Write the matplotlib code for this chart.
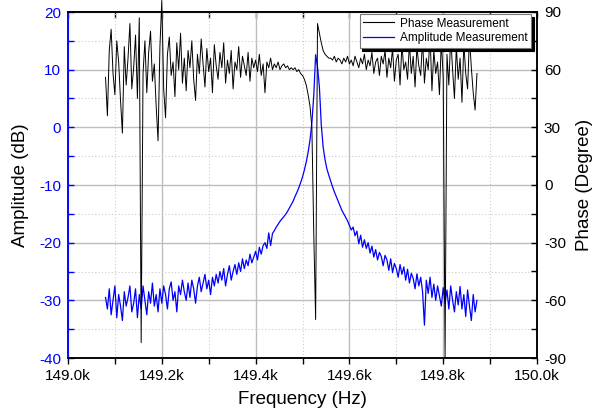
import numpy as np
import matplotlib
matplotlib.use("Agg")
import matplotlib.pyplot as plt
from matplotlib.ticker import MultipleLocator, FuncFormatter
from matplotlib.lines import Line2D

plt.rcParams['font.family'] = ['Liberation Sans', 'DejaVu Sans']
plt.rcParams['axes.unicode_minus'] = False

# ---- data ----
freq_start_hz = 149080
freq_step_hz = 4

phase_deg = [
    56, 36, 70, 81, 58, 47, 75, 64, 44, 27,
    72, 52, 66, 84, 50, 61, 78, 45, 87, -82,
    58, 75, 48, 69, 80, 54, 63, 41, 23, 72,
    96, 50, 35, 68, 77, 57, 64, 46, 74, 60,
    79, 53, 66, 49, 70, 61, 75, 55, 44, 68,
    58, 76, 63, 51, 71, 59, 66, 48, 73, 62,
    55, 69, 61, 74, 53, 65, 58, 70, 50, 64,
    60, 72, 56, 67, 62, 57, 69, 54, 66, 61,
    65, 59, 68, 57, 63, 48, 64, 61, 66, 60,
    63, 61, 64, 60, 62, 63, 61, 62, 60, 61,
    60, 61, 59, 60, 58, 57, 55, 52, 47, 41,
    30, -25, -70, 84, 79, 74, 70, 68, 67, 66,
    66, 65, 67, 64, 66, 65, 63, 66, 64, 67,
    63, 65, 62, 67, 64, 61, 66, 63, 68, 60,
    65, 62, 69, 58, 64, 66, 57, 67, 63, 70,
    56, 66, 61, 71, 54, 65, 68, 52, 73, 60,
    64, 55, 74, 58, 67, 51, 72, 62, 57, 76,
    53, 66, 60, 78, 49, 70, 58, 64, 47, 75,
    56, -90, 68, 52, 77, 60, 45, 72, 55, 66,
    43, 74, 58, 50, 77, 61, 48, 39, 58,
]

amp_db = [
    -29.5, -31.5, -28.0, -32.5, -30.0, -27.5, -33.0, -29.0, -31.0, -33.5,
    -28.5, -31.0, -29.5, -27.5, -32.0, -30.5, -28.0, -33.0, -29.0, -31.5,
    -27.5, -30.0, -32.5, -28.5, -30.5, -27.0, -31.0, -29.0, -32.0, -28.0,
    -30.5, -27.5, -29.0, -31.5, -28.0, -26.8, -30.0, -28.5, -32.0, -27.5,
    -29.0, -26.5, -28.5, -30.0, -27.0, -29.5, -26.5, -28.0, -30.5, -27.5,
    -26.0, -28.5, -27.0, -25.5, -28.0, -26.5, -29.0, -26.0, -27.5, -25.5,
    -27.0, -25.0, -26.5, -24.5, -27.5, -25.5, -24.0, -26.5, -25.0, -23.8,
    -25.5, -23.5, -25.0, -22.8, -24.5, -23.0, -24.0, -22.0, -23.5, -22.5,
    -21.5, -23.0, -20.8, -22.0, -20.5, -20.0, -21.0, -18.3, -20.5, -18.4,
    -17.9, -17.3, -16.8, -16.3, -15.9, -15.5, -15.1, -14.6, -14.0, -13.4,
    -12.8, -12.0, -11.3, -10.5, -9.6, -8.6, -7.4, -6.0, -4.3, -2.2,
    0.8, 5.5, 12.6, 10.5, 7.0, 0.5, -3.4, -5.6, -7.2, -8.3,
    -9.3, -10.3, -11.2, -12.0, -12.8, -13.6, -14.4, -15.0, -15.6, -16.2,
    -17.0, -17.8, -17.3, -18.8, -18.0, -20.2, -18.7, -20.8, -19.5, -21.0,
    -20.0, -21.8, -20.6, -22.5, -21.2, -23.0, -21.7, -22.4, -24.0, -22.2,
    -23.0, -24.8, -22.8, -25.2, -23.6, -24.5, -26.0, -23.8, -25.5, -24.2,
    -26.5, -24.6, -27.0, -25.3, -26.2, -28.0, -25.4, -27.5, -26.0, -28.5,
    -34.3, -26.5, -28.8, -26.0, -29.5, -27.2, -30.0, -27.5, -29.2, -31.0,
    -27.8, -30.5, -28.2, -31.5, -27.5, -30.0, -32.0, -28.5, -30.8, -27.6,
    -31.5, -29.0, -32.8, -28.2, -31.0, -33.5, -29.0, -32.0, -30.0,
]

freq_hz = freq_start_hz + freq_step_hz * np.arange(len(amp_db))

x_range = (149000, 150000)
amp_range = (-40, 20)
phase_range = (-90, 90)
series_labels = ["Phase Measurement", "Amplitude Measurement"]

# ---- figure ----
W, H = 592, 415
fig = plt.figure(figsize=(W / 100, H / 100), dpi=100)
L, R, T, B = 68, 537, 12, 358
ax = fig.add_axes([L / W, 1 - B / H, (R - L) / W, (B - T) / H])
ax2 = ax.twinx()

blue = '#0000ff'
ax.plot(freq_hz, amp_db, color=blue, lw=0.9, zorder=3)
ax2.plot(freq_hz, phase_deg, color='black', lw=0.7, zorder=3, clip_on=False)

ax.set_xlim(*x_range)
ax.set_ylim(*amp_range)
ax2.set_ylim(*phase_range)

ax.xaxis.set_major_locator(MultipleLocator(200))
ax.xaxis.set_minor_locator(MultipleLocator(100))
ax.xaxis.set_major_formatter(FuncFormatter(lambda v, _: f"{v/1000:.1f}k"))
ax.yaxis.set_major_locator(MultipleLocator(10))
ax.yaxis.set_minor_locator(MultipleLocator(5))
ax2.yaxis.set_major_locator(MultipleLocator(30))
ax2.yaxis.set_minor_locator(MultipleLocator(15))

ax.set_axisbelow(True)
ax.grid(which='major', color='#bdbdbd', lw=1.0, ls='-')
ax.grid(which='minor', color='#cccccc', lw=0.8, ls=(0, (1, 2)))

# spines
for a in (ax, ax2):
    for s in a.spines.values():
        s.set_linewidth(1.1)
        s.set_color('black')
    a.spines['left'].set_color(blue)

ax.tick_params(axis='x', which='both', direction='out', length=4, width=1,
               labelsize=11, pad=4, colors='black')
ax.tick_params(axis='y', which='both', direction='in', length=4, width=1,
               labelsize=11, pad=5, colors=blue)
ax2.tick_params(axis='y', which='both', direction='in', length=4, width=1,
                labelsize=11, pad=5, colors='black')

sec = ax.secondary_xaxis('top')
sec.xaxis.set_major_locator(MultipleLocator(200))
sec.xaxis.set_minor_locator(MultipleLocator(100))
sec.tick_params(which='both', direction='in', length=4, width=1, labeltop=False)
sec.spines['top'].set_linewidth(1.1)

ax.set_xlabel('Frequency (Hz)', fontsize=13.5, labelpad=6)
ax.set_ylabel('Amplitude (dB)', fontsize=13.5, labelpad=7)
ax2.set_ylabel('Phase (Degree)', fontsize=13.5, labelpad=7)

handles = [Line2D([], [], color='black', lw=0.8), Line2D([], [], color=blue, lw=0.9)]
leg = ax2.legend(handles, series_labels, loc='upper right',
                 bbox_to_anchor=(531 / W, 1 - 14 / H), bbox_transform=fig.transFigure,
                 fontsize=8.5, frameon=True, fancybox=False,
                 shadow={'color': 'black', 'alpha': 1},
                 borderaxespad=0, handlelength=2.6, borderpad=0.3,
                 labelspacing=0.25, handletextpad=0.5)
leg.get_frame().set_edgecolor('#777777')
leg.get_frame().set_linewidth(0.8)
leg.set_zorder(10)

fig.savefig('out.png', dpi=100)
